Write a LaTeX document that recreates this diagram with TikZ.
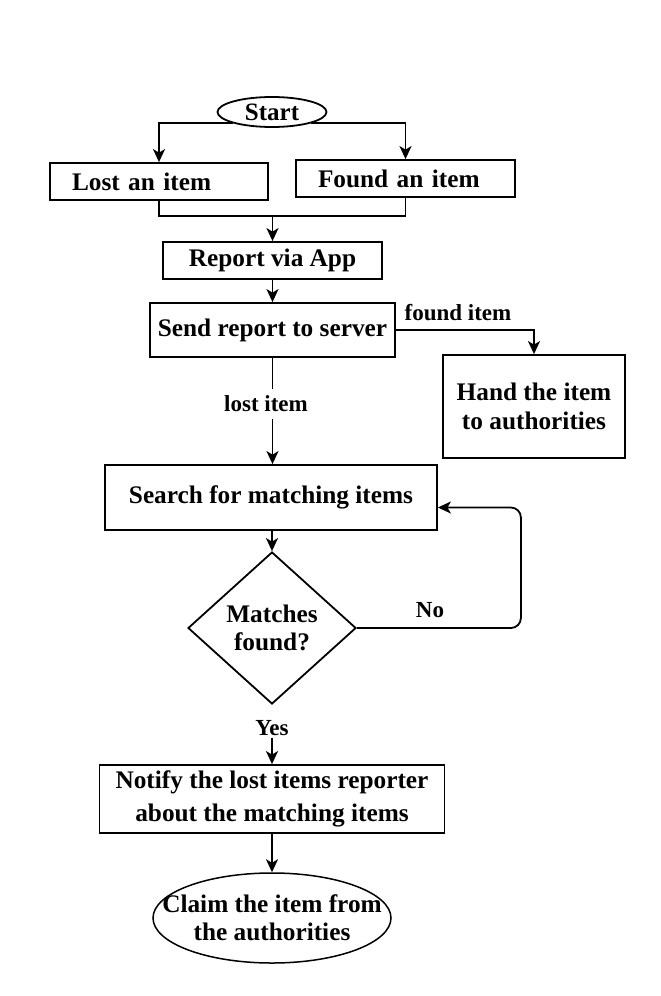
\documentclass[tikz,border=0pt]{standalone}
\usepackage{fontspec}
\setmainfont{Liberation Serif}
\usetikzlibrary{shapes.geometric,arrows.meta,calc}
\begin{document}
\begin{tikzpicture}[x=1pt,y=-1pt,
  box/.style={draw, line width=1.8pt, font=\bfseries\fontsize{25.3}{28}\selectfont, inner sep=0pt, align=center},
  lbl/.style={font=\bfseries\fontsize{23}{26}\selectfont, inner xsep=1pt, inner ysep=2pt},
  conn/.style={line width=1.8pt},
  arr/.style={line width=1.8pt, -{Stealth[length=13pt,width=12pt,inset=3.5pt]}}]
\useasboundingbox[fill=white] (0,0) rectangle (661,996);
% nodes
\node[ellipse, draw, line width=1.8pt, minimum width=109pt, minimum height=30pt, inner sep=0pt,
      font=\bfseries\fontsize{25}{26}\selectfont] (start) at (272,112) {Start};
\node[box, text width=174pt, inner xsep=22pt, align=left, minimum height=37pt] (lost) at (159,181.5) {Lost an item};
\node[box, text width=175pt, inner xsep=22pt, align=left, minimum height=37pt] (found) at (405.5,178.5) {Found an item};
\coordinate (merge) at (272.5,216);
\node[box, minimum width=219pt, minimum height=37pt] (report) at (272.5,260.5) {Report via App};
\node[box, minimum width=245pt, minimum height=54pt] (send) at (272.5,330) {Send report to server};
\node[box, minimum width=182pt, minimum height=103pt, font=\bfseries\fontsize{25.3}{29}\selectfont] (hand) at (534,406.5) {Hand the item\\to authorities};
\node[lbl] (foundlbl) at (458,313) {found item};
\node[lbl, inner ysep=7pt] (lostlbl) at (266,404) {lost item};
\node[box, minimum width=332pt, minimum height=65pt] (search) at (271,497.5) {Search for matching items};
\node[diamond, draw, line width=1.8pt, minimum width=168pt, minimum height=152pt, inner sep=0pt,
      align=center, font=\bfseries\fontsize{25.3}{28}\selectfont] (dec) at (272,628) {Matches\\found?};
\node[lbl] (nolbl) at (430,610) {No};
\node[lbl] (yeslbl) at (272,728) {Yes};
\node[box, minimum width=345pt, minimum height=68pt, font=\bfseries\fontsize{25.3}{33}\selectfont] (notify) at (272,799) {Notify the lost items reporter\\about the matching items};
\node[ellipse, draw, line width=1.5pt, minimum width=238pt, minimum height=90pt, inner sep=0pt] (claim) at (272,918) {};
\node[align=center, inner sep=0pt, font=\bfseries\fontsize{25.3}{28}\selectfont] (claimtxt) at (claim.center) {Claim the item from\\the authorities};
% connectors
\draw[arr] (start.south west) -| (lost.north);
\draw[arr] (start.south east) -| (found.north);
\draw[conn] (lost.south) |- (merge) -| (found.south);
\draw[arr] (merge) -- (report.north);
\draw[arr] (report) -- (send);
\draw[arr] (send.east) -| (hand.north);
\draw[conn] (send.south) -- (send.south |- lostlbl.north);
\draw[arr] (send.south |- lostlbl.south) -- (send.south |- search.north);
\draw[arr] (search.south -| dec.north) -- (dec.north);
\draw[arr, rounded corners=10pt] (dec.east) -- ++(164,0) |- ($(search.east)+(0,10)$);
\draw[arr] (yeslbl) -- (notify);
\draw[arr] (notify.south) -- (claim.north);
\end{tikzpicture}
\end{document}
